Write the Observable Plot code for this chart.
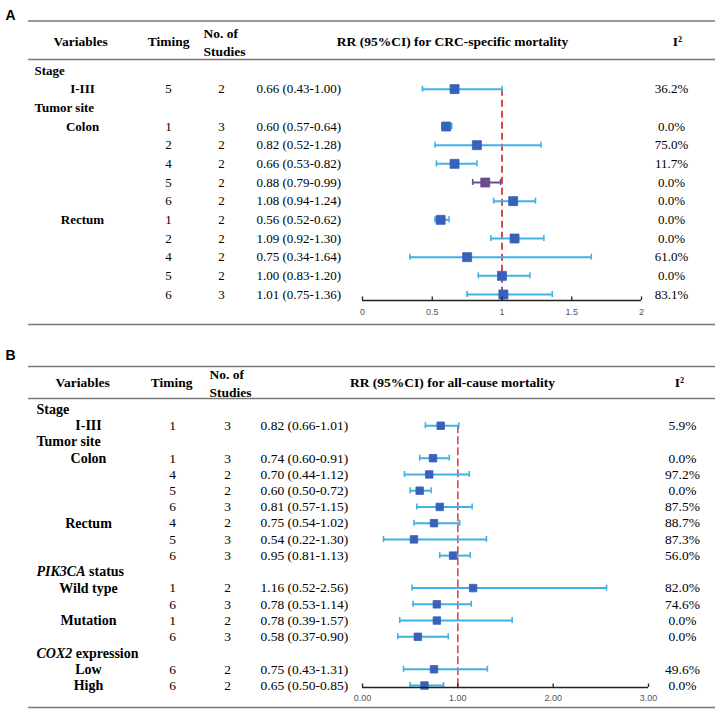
<!DOCTYPE html>
<html><head><meta charset="utf-8">
<script src="https://cdn.jsdelivr.net/npm/d3@7"></script>
<script src="https://cdn.jsdelivr.net/npm/@observablehq/plot@0.6"></script>
<style>body{margin:0;background:#fff}#chart svg{display:block}</style>
</head><body><div id="chart"></div>
<script>
// ---------- Panel A: CRC-specific mortality ----------
const aVariable = ["Stage", "I-III", "Tumor site", "Colon", "", "", "", "", "Rectum", "", "", "", ""];
const aTiming   = [null, 5, null, 1, 2, 4, 5, 6, 1, 2, 4, 5, 6];
const aStudies  = [null, 2, null, 3, 2, 2, 2, 2, 2, 2, 2, 2, 3];
const aRR       = [null, 0.66, null, 0.60, 0.82, 0.66, 0.88, 1.08, 0.56, 1.09, 0.75, 1.00, 1.01];
const aLo       = [null, 0.43, null, 0.57, 0.52, 0.53, 0.79, 0.94, 0.52, 0.92, 0.34, 0.83, 0.75];
const aHi       = [null, 1.00, null, 0.64, 1.28, 0.82, 0.99, 1.24, 0.62, 1.30, 1.64, 1.20, 1.36];
const aI2       = [null, 36.2, null, 0.0, 75.0, 11.7, 0.0, 0.0, 0.0, 0.0, 61.0, 0.0, 83.1];
const aTicks    = [0, 0.5, 1, 1.5, 2];

// ---------- Panel B: all-cause mortality ----------
const bVariable = ["Stage", "I-III", "Tumor site", "Colon", "", "", "", "Rectum", "", "", "PIK3CA status", "Wild type", "", "Mutation", "", "COX2 expression", "Low", "High"];
const bTiming   = [null, 1, null, 1, 4, 5, 6, 4, 5, 6, null, 1, 6, 1, 6, null, 6, 6];
const bStudies  = [null, 3, null, 3, 2, 2, 3, 2, 3, 3, null, 2, 3, 2, 3, null, 2, 2];
const bRR       = [null, 0.82, null, 0.74, 0.70, 0.60, 0.81, 0.75, 0.54, 0.95, null, 1.16, 0.78, 0.78, 0.58, null, 0.75, 0.65];
const bLo       = [null, 0.66, null, 0.60, 0.44, 0.50, 0.57, 0.54, 0.22, 0.81, null, 0.52, 0.53, 0.39, 0.37, null, 0.43, 0.50];
const bHi       = [null, 1.01, null, 0.91, 1.12, 0.72, 1.15, 1.02, 1.30, 1.13, null, 2.56, 1.14, 1.57, 0.90, null, 1.31, 0.85];
const bI2       = [null, 5.9, null, 0.0, 97.2, 0.0, 87.5, 88.7, 87.3, 56.0, null, 82.0, 74.6, 0.0, 0.0, null, 49.6, 0.0];
const bTicks    = [0, 1, 2, 3];
const italicPrefixes = ["PIK3CA", "COX2"];

// styles
const BLUE = "#3862b9", CI = "#3fb2e3", PURPLE = "#6a4e8c", RED = "#d84a4a";
const SERIF = "'Liberation Serif', 'Times New Roman', serif";
const SANS = "'Liberation Sans', Arial, sans-serif";
const aPurpleRows = new Set([6]);

function buildRows(v, t, s, rr, lo, hi, i2) {
  return v.map((name, i) => ({i, name, group: t[i] == null, timing: t[i], studies: s[i], rr: rr[i], lo: lo[i], hi: hi[i], i2: i2[i]}));
}

function panel(c) {
  const data = buildRows(...c.cols);
  const est = data.filter(d => !d.group);
  const n = data.length;
  const step = (c.rowBottom - c.rowTop) / (n - 1);
  const yr = p => (p - c.rowTop) / step;
  const ML = 28, MR = 5;
  const dxp = p => p - ML;
  const axisRow = yr(c.axisY);
  const cap = 3 / step;
  const ciColor = d => c.purple && c.purple.has(d.i) ? PURPLE : CI;
  const mkColor = d => c.purple && c.purple.has(d.i) ? PURPLE : BLUE;
  const fs = c.fs, hfs = c.hfs;
  const header = (text, x, anchor, extra = {}) =>
    Plot.text([text], {text: d => d, frameAnchor: "top-left", lineAnchor: "middle", dx: dxp(x), dy: c.headerY, textAnchor: anchor, fontWeight: "bold", fontSize: hfs, ...extra});
  const svg = Plot.plot({
    width: 720, height: c.height,
    marginLeft: ML, marginRight: MR, marginTop: 0, marginBottom: 0,
    x: {domain: c.xDomain, range: c.xRange, axis: null},
    y: {type: "linear", domain: [0, n - 1], range: [c.rowTop, c.rowBottom], axis: null},
    style: {fontFamily: SERIF, background: "white", overflow: "visible"},
    marks: [
      Plot.text([c.letter], {text: d => d, frameAnchor: "top-left", lineAnchor: "middle", dx: dxp(10), dy: c.letterY, textAnchor: "middle", fontFamily: SANS, fontWeight: "bold", fontSize: 14}),
      Plot.ruleY(c.rules.map(yr), {y: d => d, stroke: "#7a7a7a", strokeWidth: 1.6}),
      header("Variables", c.hVar, "middle"),
      header("Timing", c.hTiming, "middle"),
      header("No. of\nStudies", c.hStudies, "start", {lineHeight: c.studiesLH}),
      header(c.rrTitle, c.hRR, "middle"),
      header("I²", c.hI2, "middle"),
      // table body
      Plot.text(data.filter(d => d.group), {y: "i", text: "name", frameAnchor: "left", dx: dxp(c.groupX), textAnchor: "start", fontWeight: "bold", fontSize: c.lfs}),
      Plot.text(est.filter(d => d.name), {y: "i", text: "name", frameAnchor: "left", dx: dxp(c.subX), textAnchor: "middle", fontWeight: "bold", fontSize: c.lfs}),
      Plot.text(est, {y: "i", text: d => String(d.timing), frameAnchor: "left", dx: dxp(c.timingX), textAnchor: "middle", fontSize: fs}),
      Plot.text(est, {y: "i", text: d => String(d.studies), frameAnchor: "left", dx: dxp(c.studiesX), textAnchor: "middle", fontSize: fs}),
      Plot.text(est, {y: "i", text: d => `${d.rr.toFixed(2)} (${d.lo.toFixed(2)}-${d.hi.toFixed(2)})`, frameAnchor: "left", dx: dxp(c.rrX), textAnchor: "start", fontSize: fs}),
      Plot.text(est, {y: "i", text: d => d.i2.toFixed(1) + "%", frameAnchor: "left", dx: dxp(c.i2X), textAnchor: "middle", fontSize: fs}),
      // reference line
      Plot.ruleX([1], {x: d => d, y1: c.refFrom, y2: axisRow, stroke: RED, strokeWidth: c.refW, strokeDasharray: c.dash}),
      // CIs
      Plot.ruleY(est, {y: "i", x1: "lo", x2: "hi", stroke: ciColor, strokeWidth: 2}),
      Plot.ruleX(est, {x: "lo", y1: d => d.i - cap, y2: d => d.i + cap, stroke: ciColor, strokeWidth: 1.6}),
      Plot.ruleX(est, {x: "hi", y1: d => d.i - cap, y2: d => d.i + cap, stroke: ciColor, strokeWidth: 1.6}),
      Plot.dot(est, {x: "rr", y: "i", symbol: "square", r: c.side / 1.7725, fill: mkColor, stroke: mkColor, strokeWidth: 0.8, strokeLinejoin: "round"}),
      // axis
      Plot.ruleY([axisRow], {y: d => d, x1: c.xDomain[0], x2: c.xDomain[1], stroke: "#222", strokeWidth: 1.6}),
      Plot.ruleX(c.ticks, {x: d => d, y1: axisRow - 3.5 / step, y2: axisRow, stroke: "#222", strokeWidth: 1.3}),
      Plot.text(c.ticks, {x: d => d, y: axisRow, dy: c.tickDy, text: c.tickFormat, fontFamily: SANS, fontSize: 9, fill: "#555"})
    ]
  });
  // italic gene names
  d3.select(svg).selectAll("text").each(function () {
    const t = this.textContent;
    for (const p of italicPrefixes) {
      if (t.startsWith(p + " ")) {
        const el = d3.select(this);
        el.text(null);
        el.append("tspan").attr("font-style", "italic").text(p);
        el.append("tspan").text(t.slice(p.length));
      }
    }
  });
  return svg;
}

const root = document.getElementById("chart");
root.append(panel({
  letter: "A", letterY: 15, height: 345,
  cols: [aVariable, aTiming, aStudies, aRR, aLo, aHi, aI2],
  rules: [20.5, 59, 324], headerY: 41, studiesLH: 1.3,
  hVar: 80, hTiming: 168, hStudies: 203, hRR: 452, hI2: 677,
  rrTitle: "RR (95%CI) for CRC-specific mortality",
  rowTop: 70, rowBottom: 294, axisY: 300,
  xDomain: [0, 2], xRange: [362, 641], ticks: aTicks, tickFormat: d => String(d), tickDy: 12,
  groupX: 34, subX: 82, timingX: 168, studiesX: 221, rrX: 256, i2X: 671,
  fs: 13, hfs: 13.5, lfs: 13, side: 9, refFrom: 1, refW: 2, dash: "7,4",
  purple: aPurpleRows
}));
root.append(panel({
  letter: "B", letterY: 10, height: 367,
  cols: [bVariable, bTiming, bStudies, bRR, bLo, bHi, bI2],
  rules: [21, 53, 362], headerY: 37, studiesLH: 1.3,
  hVar: 82, hTiming: 171, hStudies: 209, hRR: 452, hI2: 679,
  rrTitle: "RR (95%CI) for all-cause mortality",
  rowTop: 64, rowBottom: 340, axisY: 342,
  xDomain: [0, 3], xRange: [362, 648], ticks: bTicks, tickFormat: d => d.toFixed(2), tickDy: 11,
  groupX: 36, subX: 88, timingX: 172, studiesX: 227, rrX: 260, i2X: 682,
  fs: 13.5, hfs: 13.5, lfs: 14, side: 7.5, refFrom: 1, refW: 1.6, dash: "8,3",
  purple: null
}));
</script></body></html>
